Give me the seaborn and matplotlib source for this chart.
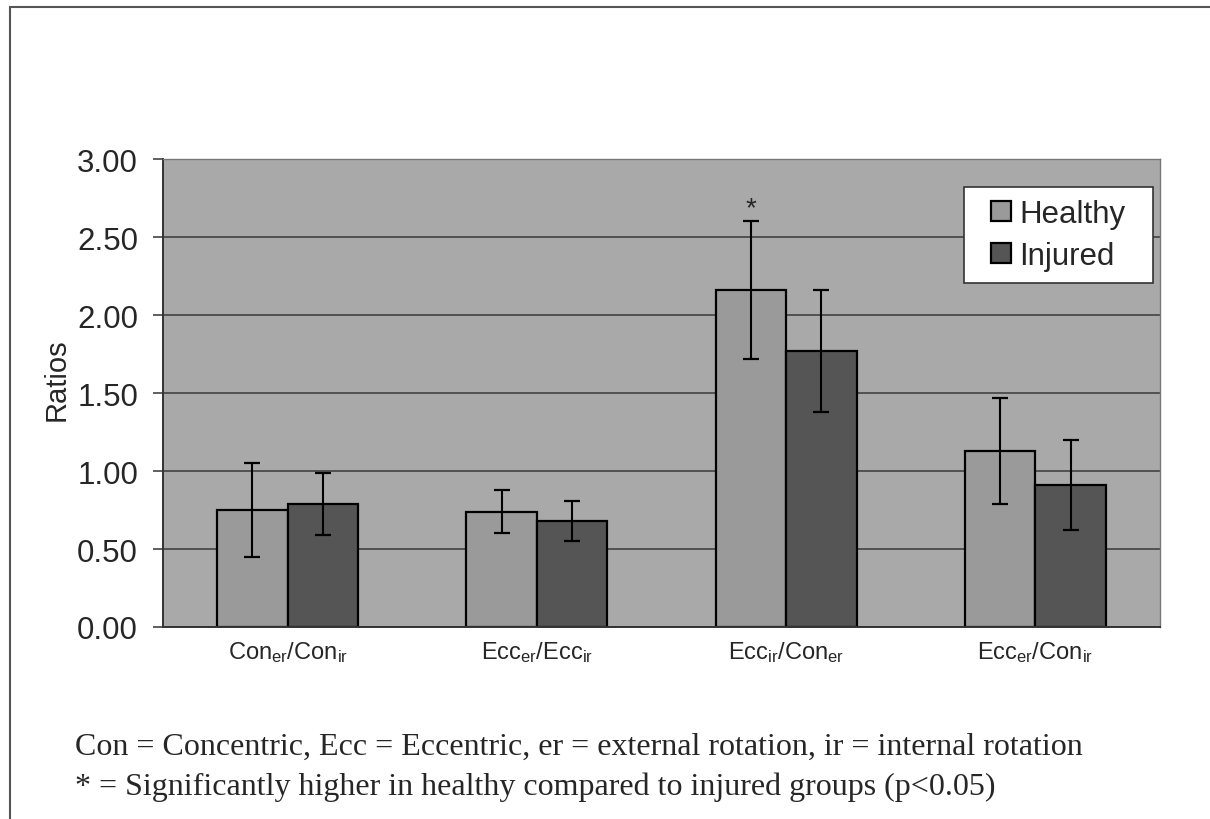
import numpy as np
import matplotlib
matplotlib.use("Agg")
import matplotlib.pyplot as plt
import pandas as pd
import seaborn as sns
from matplotlib.patches import Rectangle

# values
ratios = ["Con$_{er}$/Con$_{ir}$", "Ecc$_{er}$/Ecc$_{ir}$",
          "Ecc$_{ir}$/Con$_{er}$", "Ecc$_{er}$/Con$_{ir}$"]
groups = ["Healthy", "Injured"]
healthy_mean = [0.75, 0.74, 2.16, 1.13]
healthy_sd = [0.30, 0.14, 0.44, 0.34]
injured_mean = [0.79, 0.68, 1.77, 0.91]
injured_sd = [0.20, 0.13, 0.39, 0.29]
significant = [False, False, True, False]   # healthy > injured, p<0.05

df = pd.DataFrame({
    "ratio": ratios * 2,
    "group": [groups[0]] * 4 + [groups[1]] * 4,
    "mean": healthy_mean + injured_mean,
    "sd": healthy_sd + injured_sd,
})

sns.set_style("white")
plt.rcParams["font.family"] = ["Liberation Sans", "DejaVu Sans"]
plt.rcParams["mathtext.default"] = "regular"

fig = plt.figure(figsize=(12.1, 8.2), dpi=100)
ax = fig.add_axes([163 / 1210, 1 - 628 / 820, 997 / 1210, 468 / 820])

# outer border of the scanned figure
fig.patches.append(Rectangle((10 / 1210, -0.1), 1.2, 1 - 8 / 820 + 0.1,
                             transform=fig.transFigure, fill=False,
                             edgecolor="#555555", linewidth=1.5))

ax.set_facecolor("#a9a9a9")
sns.barplot(data=df, x="ratio", y="mean", hue="group", order=ratios,
            hue_order=groups, palette=["#9a9a9a", "#555555"],
            width=0.565, errorbar=None, edgecolor="black", linewidth=1.6,
            saturation=1, ax=ax, zorder=2)

# error bars, placed on the bars seaborn drew
for cont, g in zip(ax.containers, groups):
    sub = df[df["group"] == g].set_index("ratio").loc[ratios]
    xs = [p.get_x() + p.get_width() / 2 for p in cont.patches]
    ax.errorbar(xs, sub["mean"], yerr=sub["sd"], fmt="none", ecolor="black",
                elinewidth=1.5, capsize=5.5, capthick=1.6, zorder=3)
    if g == "Healthy":
        for x, m, s, sig in zip(xs, sub["mean"], sub["sd"], significant):
            if sig:
                ax.annotate("*", (x, m + s), xytext=(0, 0),
                            textcoords="offset points", ha="center",
                            va="bottom", fontsize=20)

ax.set_xlim(-0.5, len(ratios) - 0.5)
ax.set_ylim(0, 3)
ax.set_yticks(np.arange(0, 3.01, 0.5))
ax.set_yticklabels([f"{v:.2f}" for v in np.arange(0, 3.01, 0.5)])
ax.yaxis.grid(True, color="#4a4a4a", linewidth=1.3)
ax.set_axisbelow(True)
ax.tick_params(axis="y", labelsize=22.5, length=7, width=1.2, color="#444444",
               pad=11, left=True)
ax.tick_params(axis="x", labelsize=17, length=0, pad=9)
ax.set_xlabel("")
ax.set_ylabel("Ratios", fontsize=21)
ax.yaxis.set_label_coords(-0.093, 0.53)

for side in ["left", "bottom"]:
    ax.spines[side].set_color("#333333")
    ax.spines[side].set_linewidth(1.4)
for side in ["top", "right"]:
    ax.spines[side].set_color("#777777")
    ax.spines[side].set_linewidth(1.0)

# legend: white box with the entries centred in it
ax.add_patch(Rectangle((0.8034, 0.735), 0.1896, 0.205, transform=ax.transAxes,
                       facecolor="white", edgecolor="#333333", linewidth=1.2,
                       zorder=4))
leg = ax.legend(loc="center", bbox_to_anchor=(0.8982, 0.8375),
                fontsize=22.5, frameon=False, handlelength=0.62,
                handleheight=0.62, handletextpad=0.28, labelspacing=0.4,
                borderpad=0)
leg.set_zorder(5)

caption = ["Con = Concentric, Ecc = Eccentric, er = external rotation, ir = internal rotation",
           "* = Significantly higher in healthy compared to injured groups (p<0.05)"]
fig.text(75 / 1210, 1 - 755 / 820, caption[0], fontsize=23,
         family=["Liberation Serif", "DejaVu Serif"], va="baseline")
fig.text(75 / 1210, 1 - 795 / 820, caption[1], fontsize=23,
         family=["Liberation Serif", "DejaVu Serif"], va="baseline")

fig.savefig("out.png", dpi=100)
